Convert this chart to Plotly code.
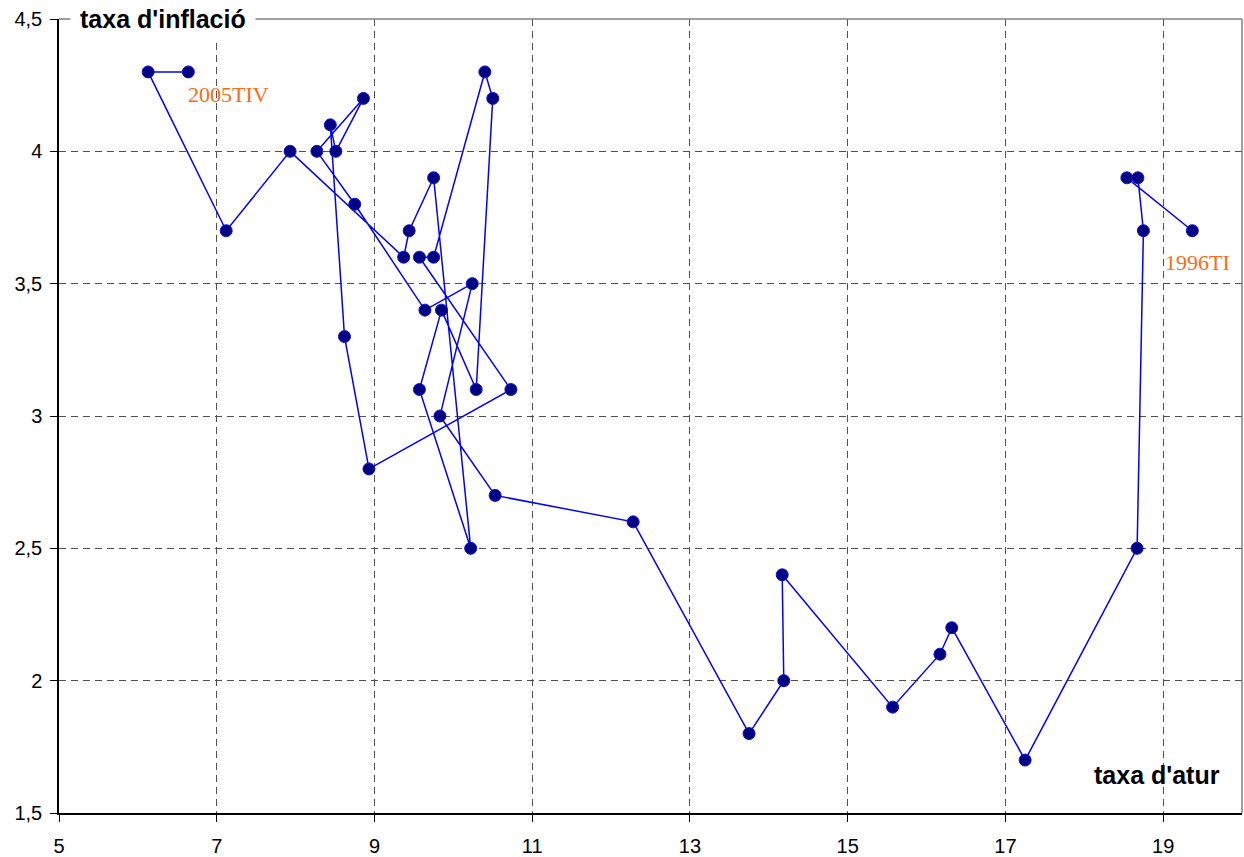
import plotly.graph_objects as go

# Quarterly data 1996TI ... 2005TIV
unemployment = [19.37, 18.54, 18.68, 18.75,
                18.67, 17.25, 16.32, 16.17,
                15.57, 14.17, 14.19, 13.75,
                12.28, 10.53, 9.83, 10.24,
                9.64, 8.75, 8.27, 8.86,
                8.51, 8.44, 8.62, 8.93,
                10.73, 9.57, 9.75, 10.40,
                10.50, 10.29, 9.85, 9.57,
                10.22, 9.75, 9.44, 9.37,
                7.93, 7.12, 6.13, 6.64]
inflation = [3.7, 3.9, 3.9, 3.7,
             2.5, 1.7, 2.2, 2.1,
             1.9, 2.4, 2.0, 1.8,
             2.6, 2.7, 3.0, 3.5,
             3.4, 3.8, 4.0, 4.2,
             4.0, 4.1, 3.3, 2.8,
             3.1, 3.6, 3.6, 4.3,
             4.2, 3.1, 3.4, 3.1,
             2.5, 3.9, 3.7, 3.6,
             4.0, 3.7, 4.3, 4.3]
first_label = "1996TI"
last_label = "2005TIV"

x_ticks = [5, 7, 9, 11, 13, 15, 17, 19]
y_ticks = [1.5, 2, 2.5, 3, 3.5, 4, 4.5]
y_ticktext = ["1,5", "2", "2,5", "3", "3,5", "4", "4,5"]

fig = go.Figure()
fig.add_trace(go.Scatter(
    x=unemployment, y=inflation, mode="lines+markers",
    line=dict(color="#0000FF", width=1.5),
    marker=dict(size=12, color="#000080", line=dict(color="#1010E0", width=1)),
    hoverinfo="skip", showlegend=False,
))

grid = dict(showgrid=True, gridcolor="#505050", gridwidth=1, griddash="7px,5px")
fig.update_layout(
    width=1244, height=857,
    margin=dict(l=59, r=2, t=19, b=44, autoexpand=False),
    paper_bgcolor="white", plot_bgcolor="white",
    font=dict(family="Liberation Sans, Arial, sans-serif", size=20, color="black"),
    xaxis=dict(range=[5, 20], tickvals=x_ticks, ticks="outside", ticklen=7,
               tickcolor="black", showline=True, linecolor="black", linewidth=1.5,
               zeroline=False, ticklabelstandoff=7, automargin=False, **grid),
    yaxis=dict(range=[1.5, 4.5], tickvals=y_ticks, ticktext=y_ticktext,
               ticks="outside", ticklen=7, tickcolor="black", showline=True,
               linecolor="black", linewidth=1.5, zeroline=False,
               ticklabelstandoff=4, automargin=False, **grid),
    shapes=[
        dict(type="line", xref="paper", yref="paper", x0=0, x1=1, y0=1, y1=1,
             line=dict(color="#808080", width=1.5)),
        dict(type="line", xref="paper", yref="paper", x0=1, x1=1, y0=0, y1=1,
             line=dict(color="#808080", width=1.5)),
    ],
)

fig.add_annotation(text="<b>taxa d'inflació</b>", xref="paper", yref="paper",
                   x=0.009, y=1, xanchor="left", yanchor="middle",
                   showarrow=False, bgcolor="white", borderpad=9,
                   font=dict(size=25, family="Liberation Sans, Arial, sans-serif"))
fig.add_annotation(text="<b>taxa d'atur</b>", xref="paper", yref="paper",
                   x=0.983, y=0.048, xanchor="right", yanchor="middle",
                   showarrow=False,
                   font=dict(size=25, family="Liberation Sans, Arial, sans-serif"))
fig.add_annotation(text=last_label, x=unemployment[-1], y=inflation[-1],
                   xanchor="left", yanchor="top", yshift=-8, xshift=-2,
                   showarrow=False,
                   font=dict(size=22, color="#FF6A13", family="Liberation Serif, Times New Roman, serif"))
fig.add_annotation(text=first_label, x=unemployment[0], y=inflation[0],
                   xanchor="center", yanchor="top", yshift=-17, xshift=5,
                   showarrow=False,
                   font=dict(size=22, color="#FF6A13", family="Liberation Serif, Times New Roman, serif"))

fig.write_html("out.html", config={"displayModeBar": False},
               post_script="document.body.style.margin='0px';")
